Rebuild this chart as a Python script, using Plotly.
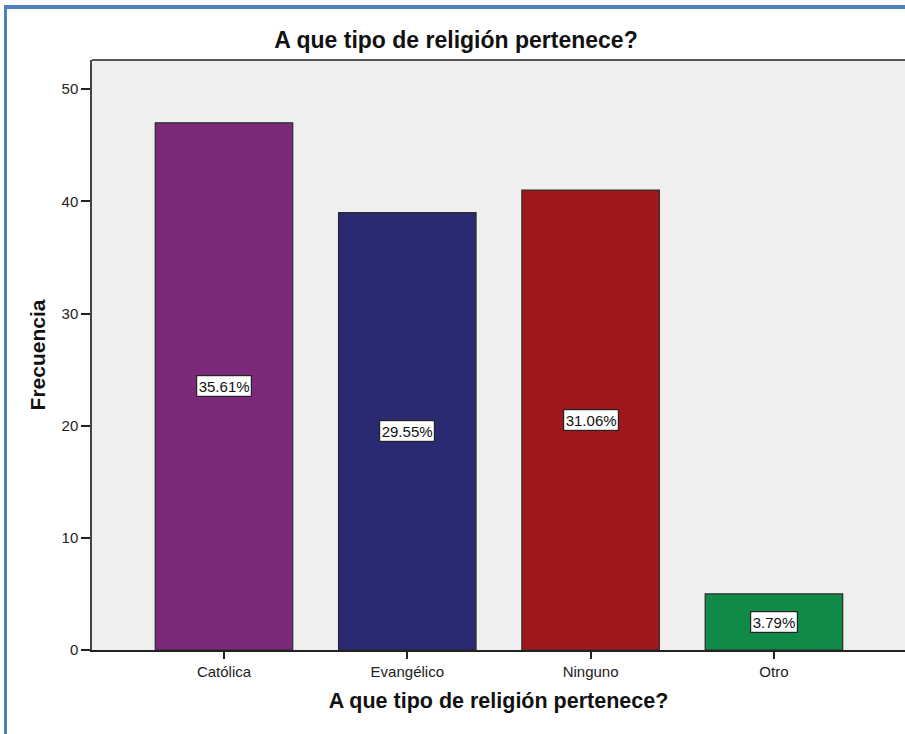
import plotly.graph_objects as go

# Religious affiliation counts
categorias = ["Católica", "Evangélico", "Ninguno", "Otro"]
frecuencias = [47, 39, 41, 5]
colores = ["#7B2A7A", "#2A2A72", "#A0181C", "#108B47"]
y_ticks = [0, 10, 20, 30, 40, 50]

total = sum(frecuencias)
porcentajes = [f"{100 * f / total:.2f}%" for f in frecuencias]

W, H = 905, 734
L, R, T, B = 92, 0, 60, 84
pw, ph = W - L - R, H - T - B

FONT = "Arial, Liberation Sans, sans-serif"


def px_x(px):
    return (px - L) / pw


def px_y(py):
    return (H - B - py) / ph


fig = go.Figure()
fig.add_trace(go.Bar(
    x=list(range(len(categorias))),
    y=frecuencias,
    width=0.75,
    marker=dict(color=colores, line=dict(color="#2b2b2b", width=1.2)),
    hoverinfo="skip",
))

# Percentage labels in the middle of each bar
for i, (f, p) in enumerate(zip(frecuencias, porcentajes)):
    fig.add_annotation(
        x=i, y=f / 2, text=p, showarrow=False,
        font=dict(family=FONT, size=15, color="#111"),
        bgcolor="white", bordercolor="#222", borderwidth=1.2, borderpad=1.5,
    )

shapes = [
    # top edge of the plot area
    dict(type="line", xref="paper", yref="paper", x0=0, x1=1, y0=1, y1=1,
         line=dict(color="#555", width=2)),
    # frame of the output window (left and top)
    dict(type="rect", xref="paper", yref="paper",
         x0=px_x(4), x1=px_x(7), y0=px_y(734), y1=px_y(5),
         fillcolor="#4F81BD", line=dict(width=0)),
    dict(type="rect", xref="paper", yref="paper",
         x0=px_x(4), x1=px_x(905), y0=px_y(9), y1=px_y(5),
         fillcolor="#4F81BD", line=dict(width=0)),
]

axis_font = dict(family=FONT, size=15, color="#222")

fig.update_layout(
    width=W, height=H,
    margin=dict(l=L, r=R, t=T, b=B),
    paper_bgcolor="white",
    plot_bgcolor="#EFEFEF",
    showlegend=False,
    shapes=shapes,
    title=dict(text="<b>A que tipo de religión pertenece?</b>", x=px_x(456), xref="paper",
               y=1 - 40 / H, yref="container", xanchor="center", yanchor="middle",
               font=dict(family=FONT, size=23, color="#111")),
    xaxis=dict(
        range=[-0.72, 3.715],
        tickmode="array", tickvals=list(range(len(categorias))), ticktext=categorias,
        ticks="outside", ticklen=7, tickwidth=1.5, tickcolor="#222",
        showline=True, linecolor="#222", linewidth=1.5,
        showgrid=False, zeroline=False, tickfont=axis_font,
        title=dict(text="<b>A que tipo de religión pertenece?</b>",
                   font=dict(family=FONT, size=21.5, color="#111"),
                   standoff=14),
    ),
    yaxis=dict(
        range=[0, 52.6],
        tickmode="array", tickvals=y_ticks,
        ticks="outside", ticklen=9, tickwidth=1.5, tickcolor="#222",
        showline=True, linecolor="#444", linewidth=1.5,
        showgrid=False, zeroline=False, tickfont=axis_font,
        title=dict(text="<b>Frecuencia</b>",
                   font=dict(family=FONT, size=21, color="#111"),
                   standoff=10),
    ),
)

fig.write_html("out.html")
